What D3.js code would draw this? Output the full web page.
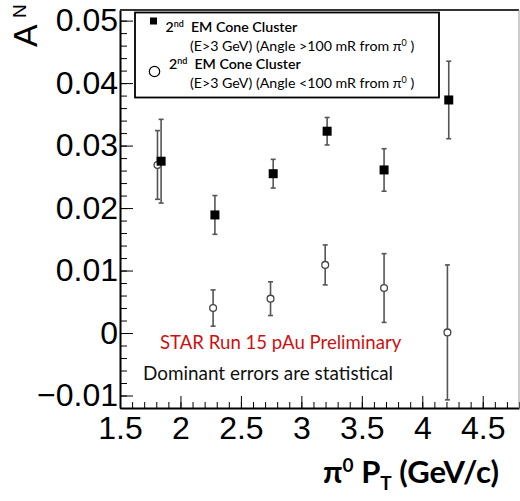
<!DOCTYPE html>
<html>
<head>
<meta charset="utf-8">
<script src="https://cdn.jsdelivr.net/npm/d3@7"></script>
<style>
  body { margin: 0; background: #fff; }
  svg { display: block; }
  .axis text { font-family: "Liberation Sans", Arial, sans-serif; font-size: 32px; fill: #000; }
  .axis path, .axis line { stroke: #000; }
  .note { font-family: Lato, "Open Sans", sans-serif; }
</style>
</head>
<body>
<div id="chart"></div>
<script>
// 2nd EM cone cluster, angle > 100 mR (filled squares)
const ptFar = [1.84, 2.285, 2.767, 3.213, 3.684, 4.219];
const anFar = [0.0275, 0.0189, 0.0255, 0.0323, 0.0261, 0.0373];
const errFar = [0.0067, 0.0031, 0.0023, 0.0022, 0.0034, 0.0062];

// 2nd EM cone cluster, angle < 100 mR (open circles)
const ptNear = [1.81, 2.27, 2.745, 3.197, 3.684, 4.208];
const anNear = [0.0269, 0.0040, 0.0055, 0.0109, 0.0072, 0.0001];
const errNear = [0.0055, 0.0029, 0.0027, 0.0032, 0.0055, 0.0108];

const xTicks = [1.5, 2, 2.5, 3, 3.5, 4, 4.5];
const yTicks = [-0.01, 0, 0.01, 0.02, 0.03, 0.04, 0.05];

const width = 520;
const height = 501;

const svg = d3.select("#chart")
  .append("svg")
  .attr("width", width)
  .attr("height", height);

const x = d3.scaleLinear().domain([1.5, 4.8]).range([120, 519]);
const y = d3.scaleLinear().domain([-0.012, 0.0517]).range([408, 10]);

// 보조 눈금
const xMinor = d3.range(15, 49).map(v => v / 10);
const yMinor = d3.range(-12, 52, 2).map(v => v / 1000);

svg.append("g")
  .attr("class", "axis")
  .attr("transform", "translate(0,408)")
  .call(d3.axisBottom(x).tickValues(xMinor).tickSizeInner(-6).tickSizeOuter(0).tickFormat(""))
  .call(g => g.select(".domain").remove());

svg.append("g")
  .attr("class", "axis")
  .attr("transform", "translate(120,0)")
  .call(d3.axisLeft(y).tickValues(yMinor).tickSizeInner(-7).tickSizeOuter(0).tickFormat(""))
  .call(g => g.select(".domain").remove());

// 주 눈금
svg.append("g")
  .attr("class", "axis")
  .attr("transform", "translate(0,408)")
  .call(d3.axisBottom(x).tickValues(xTicks).tickSizeInner(-12).tickSizeOuter(0).tickPadding(8)
    .tickFormat(d => String(d)))
  .call(g => g.select(".domain").attr("stroke-width", 2));

svg.append("g")
  .attr("class", "axis")
  .attr("transform", "translate(120,0)")
  .call(d3.axisLeft(y).tickValues(yTicks).tickSizeInner(-13).tickSizeOuter(0).tickPadding(2)
    .tickFormat(d => d === 0 ? "0" : d3.format(".2f")(d)))
  .call(g => g.select(".domain").attr("stroke-width", 2));

// 위/오른쪽 테두리
svg.append("line")
  .attr("x1", 120).attr("x2", 519).attr("y1", 10).attr("y2", 10)
  .attr("stroke", "#333").attr("stroke-width", 2);
svg.append("line")
  .attr("x1", 519).attr("x2", 519).attr("y1", 10).attr("y2", 408)
  .attr("stroke", "#999").attr("stroke-width", 1);

// 오차 막대
function drawErrors(px, py, pe) {
  const g = svg.append("g").attr("stroke", "#555").attr("stroke-width", 1.6);
  px.forEach((p, i) => {
    const cx = x(p);
    const y1 = y(py[i] + pe[i]);
    const y2 = y(py[i] - pe[i]);
    g.append("line").attr("x1", cx).attr("x2", cx).attr("y1", y1).attr("y2", y2);
    g.append("line").attr("x1", cx - 2.5).attr("x2", cx + 2.5).attr("y1", y1).attr("y2", y1);
    g.append("line").attr("x1", cx - 2.5).attr("x2", cx + 2.5).attr("y1", y2).attr("y2", y2);
  });
}

drawErrors(ptNear, anNear, errNear);
svg.append("g").selectAll("circle")
  .data(ptNear)
  .enter()
  .append("circle")
  .attr("cx", d => x(d))
  .attr("cy", (d, i) => y(anNear[i]))
  .attr("r", 3.4)
  .attr("fill", "#fff")
  .attr("stroke", "#444")
  .attr("stroke-width", 1.3);

drawErrors(ptFar, anFar, errFar);
svg.append("g").selectAll("rect")
  .data(ptFar)
  .enter()
  .append("rect")
  .attr("x", d => x(d) - 4.5)
  .attr("y", (d, i) => y(anFar[i]) - 4.5)
  .attr("width", 9)
  .attr("height", 9)
  .attr("fill", "#000");

// 범례
svg.append("rect")
  .attr("x", 135).attr("y", 12.5)
  .attr("width", 304).attr("height", 85)
  .attr("fill", "#fff")
  .attr("stroke", "#000")
  .attr("stroke-width", 1.8);

svg.append("rect")
  .attr("x", 150).attr("y", 17.5).attr("width", 7).attr("height", 7)
  .attr("fill", "#000");
svg.append("circle")
  .attr("cx", 154.5).attr("cy", 71.5).attr("r", 5.2)
  .attr("fill", "#fff").attr("stroke", "#000").attr("stroke-width", 1.2);

const legendLines = [
  { x: 165.5, y: 32, weight: 600, parts: [["2"], ["nd", "sup"], ["  EM Cone Cluster"]] },
  { x: 190, y: 51, weight: 400, parts: [["(E>3 GeV) (Angle >100 mR from π"], ["0", "sup"], [" )"]] },
  { x: 169, y: 69, weight: 600, parts: [["2"], ["nd", "sup"], ["  EM Cone Cluster"]] },
  { x: 190, y: 88, weight: 400, parts: [["(E>3 GeV) (Angle <100 mR from π"], ["0", "sup"], [" )"]] }
];

legendLines.forEach(line => {
  const t = svg.append("text")
    .attr("class", "note")
    .attr("x", line.x)
    .attr("y", line.y)
    .attr("font-size", 14.2)
    .attr("font-weight", line.weight)
    .attr("xml:space", "preserve")
    .style("white-space", "pre");
  line.parts.forEach(p => {
    const ts = t.append("tspan").text(p[0]);
    if (p[1] === "sup") {
      ts.attr("font-size", 9).attr("dy", -5.5);
    } else if (t.selectAll("tspan").size() > 1) {
      ts.attr("dy", 5.5);
    }
  });
});

// 주석
svg.append("text")
  .attr("class", "note")
  .attr("x", 160).attr("y", 349)
  .attr("font-size", 18.6)
  .attr("fill", "#cc1111")
  .text("STAR Run 15 pAu Preliminary");

svg.append("text")
  .attr("class", "note")
  .attr("x", 143).attr("y", 380)
  .attr("font-size", 18.9)
  .attr("fill", "#111")
  .text("Dominant errors are statistical");

// 축 제목
const xt = svg.append("text")
  .attr("class", "note")
  .attr("x", 323).attr("y", 483)
  .attr("font-size", 31)
  .attr("font-weight", 700)
  .attr("fill", "#000");
xt.append("tspan").text("π");
xt.append("tspan").attr("font-size", 19).attr("dy", -11).text("0");
xt.append("tspan").attr("dy", 11).text(" P");
xt.append("tspan").attr("font-size", 19).attr("dy", 7).text("T");
xt.append("tspan").attr("dy", -7).text(" (GeV/c)");

svg.append("text")
  .attr("transform", "translate(37,47) rotate(-90)")
  .attr("font-family", "Liberation Sans, Arial, sans-serif")
  .attr("font-size", 34)
  .text("A");
svg.append("text")
  .attr("transform", "translate(26,18) rotate(-90)")
  .attr("font-family", "Liberation Sans, Arial, sans-serif")
  .attr("font-size", 19)
  .text("N");
</script>
</body>
</html>
